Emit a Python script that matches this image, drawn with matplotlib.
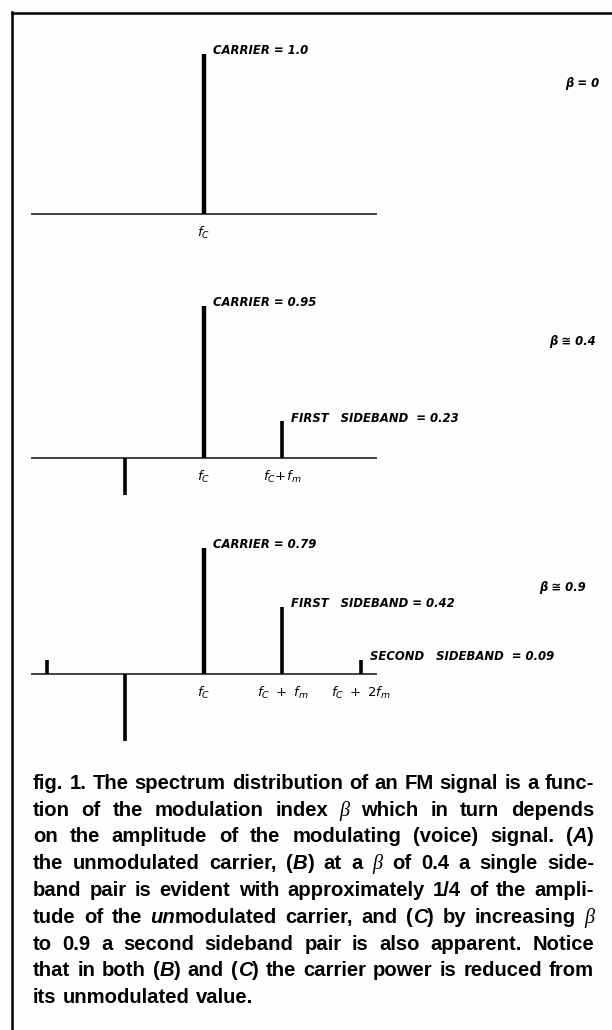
import re
import matplotlib.pyplot as plt
from matplotlib.lines import Line2D

# spectrum lines: offset from the carrier (in units of fm) and relative amplitude
offsets_a = [0]
amps_a = [1.0]
offsets_b = [-1, 0, 1]
amps_b = [-0.23, 0.95, 0.23]
offsets_c = [-2, -1, 0, 1, 2]
amps_c = [0.09, -0.42, 0.79, 0.42, 0.09]

# labels on the upper lines (carrier, first, second sideband)
labels_a = ["CARRIER = 1.0"]
labels_b = ["CARRIER = 0.95", "FIRST   SIDEBAND  = 0.23"]
labels_c = ["CARRIER = 0.79", "FIRST   SIDEBAND = 0.42", "SECOND   SIDEBAND  = 0.09"]

ticks_a = [r"$f_C$"]
ticks_b = [r"$f_C$", r"$f_C\!+\!f_m$"]
ticks_c = [r"$f_C$", r"$f_C\ +\ f_m$", r"$f_C\ +\ 2f_m$"]

betas = ["β = 0", "β ≅ 0.4", "β ≅ 0.9"]

caption_lines = [
    "fig. 1. The spectrum distribution of an FM signal is a func-",
    "tion of the modulation index β which in turn depends",
    "on the amplitude of the modulating (voice) signal. ({A})",
    "the unmodulated carrier, ({B}) at a β of 0.4 a single side-",
    "band pair is evident with approximately 1/4 of the ampli-",
    "tude of the {un}modulated carrier, and ({C}) by increasing β",
    "to 0.9 a second sideband pair is also apparent. Notice",
    "that in both ({B}) and ({C}) the carrier power is reduced from",
    "its unmodulated value.",
]

W, H = 612, 1030
DPI = 100
X0 = 204      # pixel column of fc
UNIT = 78.5   # pixels per fm
SCALE = 160   # pixels per unit amplitude

fig = plt.figure(figsize=(W / DPI, H / DPI), dpi=DPI)
fig.patch.set_facecolor('#fdfdfd')

lab_font = dict(family='DejaVu Sans', weight='bold', style='italic', size=8.4)


def panel(top, bottom, base):
    ax = fig.add_axes([0, 1 - bottom / H, 1, (bottom - top) / H])
    ax.set_xlim(-X0 / UNIT, (W - X0) / UNIT)
    ax.set_ylim(-(bottom - base) / SCALE, (base - top) / SCALE)
    ax.axis('off')
    return ax


panels = [
    (30, 260, 214, offsets_a, amps_a, labels_a, ticks_a),
    (280, 520, 458, offsets_b, amps_b, labels_b, ticks_b),
    (530, 770, 674, offsets_c, amps_c, labels_c, ticks_c),
]

for top, bottom, base, offs, amps, labels, ticks in panels:
    ax = panel(top, bottom, base)
    ax.hlines(0, -2.2, 2.2, color='#222222', lw=1.2)
    lws = [3.2 if o == 0 else 2.6 for o in offs]
    ax.vlines(offs, 0, amps, color='black', lw=lws, capstyle='butt')
    upper = [(o, a) for o, a in zip(offs, amps) if o >= 0]
    for (o, a), lab in zip(upper, labels):
        ax.annotate(lab, (o, a), xytext=(9, 3), textcoords='offset pixels',
                    ha='left', va='center', **lab_font)
    for k, t in enumerate(ticks):
        ax.annotate(t, (k, 0), xytext=(0, -19), textcoords='offset pixels',
                    ha='center', va='center', fontsize=9.5, style='italic')

beta_pos = [(565, 84), (549, 342), (539, 588)]
for (x, y), b in zip(beta_pos, betas):
    fig.text(x / W, 1 - y / H, b, ha='left', va='center', **lab_font)

# frame
fig.add_artist(Line2D([12 / W, 12 / W], [1 - 12 / H, 0], transform=fig.transFigure,
                      color='black', lw=1.8))
fig.add_artist(Line2D([12 / W, 1], [1 - 13 / H, 1 - 13 / H], transform=fig.transFigure,
                      color='black', lw=1.8))

# caption, fully justified
CAP_SIZE = 14.6
bold = dict(family='Liberation Sans', weight='bold', size=CAP_SIZE)
boldit = dict(family='Liberation Sans', weight='bold', style='italic', size=CAP_SIZE)
greek = dict(family='Liberation Serif', weight='normal', style='italic', size=CAP_SIZE)
LEFT, RIGHT = 33, 594


def parse(word):
    segs = []
    for p in re.split(r'(\{[^}]*\}|β)', word):
        if not p:
            continue
        if p == 'β':
            segs.append((p, greek))
        elif p.startswith('{'):
            segs.append((p[1:-1], boldit))
        else:
            segs.append((p, bold))
    return segs


renderer = fig.canvas.get_renderer()
space_px = CAP_SIZE * DPI / 72 * 0.3
for i, line in enumerate(caption_lines):
    y = 1 - (789 + i * 26.75) / H
    items = []
    total = 0
    for word in line.split(' '):
        ts = [fig.text(0, y, s, ha='left', va='baseline', **st) for s, st in parse(word)]
        ws = [t.get_window_extent(renderer).width for t in ts]
        items.append((ts, ws))
        total += sum(ws)
    if i < len(caption_lines) - 1:
        gap = (RIGHT - LEFT - total) / (len(items) - 1)
    else:
        gap = space_px
    x = LEFT
    for ts, ws in items:
        for t, w in zip(ts, ws):
            t.set_x(x / W)
            x += w
        x += gap

fig.savefig('out.png', dpi=DPI, facecolor=fig.get_facecolor())
